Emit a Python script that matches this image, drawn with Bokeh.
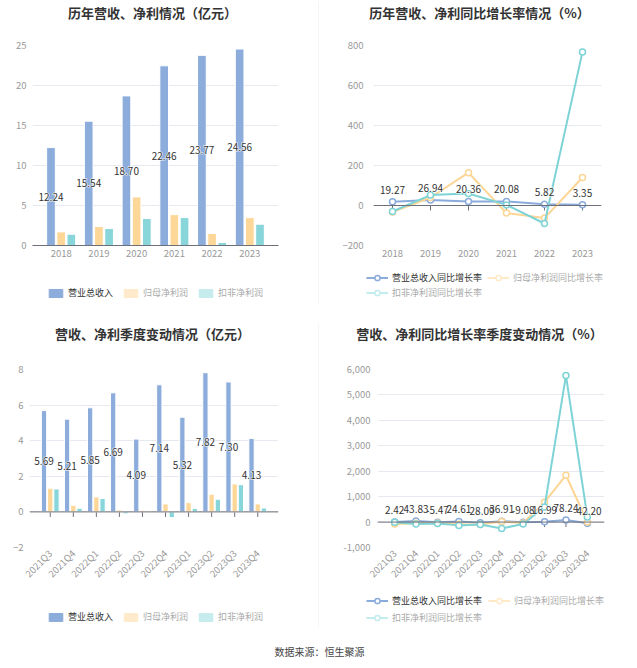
from bokeh.plotting import figure
from bokeh.layouts import column, row
from bokeh.models import (Range1d, FactorRange, Legend, LegendItem, Span, SingleIntervalTicker,
                          NumeralTickFormatter, Label, ColumnDataSource)
from bokeh.transform import dodge
from bokeh.embed import file_html
from bokeh.resources import INLINE
from bokeh.core.properties import value
import math

FONT = "Noto Sans CJK SC"

# ---------------- data ----------------
years = ["2018", "2019", "2020", "2021", "2022", "2023"]
revenue = [12.24, 15.54, 18.70, 22.46, 23.77, 24.56]
net_profit = [1.70, 2.37, 6.07, 3.86, 1.50, 3.49]
deducted_profit = [1.41, 2.12, 3.37, 3.49, 0.37, 2.66]

revenue_growth = [19.27, 26.94, 20.36, 20.08, 5.82, 3.35]
net_growth = [-33, 40, 164, -38, -63, 140]
deducted_growth = [-30, 52, 60, 3, -90, 768]

quarters = ["2021Q3", "2021Q4", "2022Q1", "2022Q2", "2022Q3", "2022Q4",
            "2023Q1", "2023Q2", "2023Q3", "2023Q4"]
q_revenue = [5.69, 5.21, 5.85, 6.69, 4.09, 7.14, 5.32, 7.82, 7.30, 4.13]
q_net_profit = [1.33, 0.37, 0.84, 0.11, 0.09, 0.45, 0.52, 0.99, 1.57, 0.45]
q_deducted_profit = [1.29, 0.21, 0.75, -0.11, 0.04, -0.32, 0.19, 0.71, 1.53, 0.22]

q_revenue_growth = [2.42, 43.83, -5.47, 24.61, -28.09, 36.91, -9.08, 16.99, 78.24, -42.20]
q_net_growth = [-75, -45, -40, -90, -94, 18, -39, 780, 1840, 0]
q_deducted_growth = [-5, -80, -60, -130, -97, -250, -73, 590, 5760, 200]

names_bar = ["营业总收入", "归母净利润", "扣非净利润"]
names_line = ["营业总收入同比增长率", "归母净利润同比增长率", "扣非净利润同比增长率"]
titles = ["历年营收、净利情况（亿元）", "历年营收、净利同比增长率情况（%）",
          "营收、净利季度变动情况（亿元）", "营收、净利同比增长率季度变动情况（%）"]
source_text = "数据来源：恒生聚源"

BLUE, YELLOW, CYAN = "#8cacdb", "#fdd797", "#88d5da"
BLUE_L, YELLOW_L, CYAN_L = "#8cacdb", "#ffeacb", "#c6ecee"
LINE_B, LINE_Y, LINE_C = "#8aabdc", "#fdd594", "#7ed3d6"
LINE_YL, LINE_CL = "#ffe9c6", "#c3ecee"
GRID = "#e6e9f0"
AXIS = "#6e7079"
DIVIDER = "#ececec"


def blank_fig(w, h, bg="white"):
    p = figure(width=w, height=h, x_range=Range1d(0, w), y_range=Range1d(0, h),
               output_backend="svg", toolbar_location=None, x_axis_type=None, y_axis_type=None,
               min_border_left=0, min_border_right=0, min_border_top=0, min_border_bottom=0,
               frame_align=False)
    p.grid.grid_line_color = None
    p.outline_line_color = None
    p.background_fill_color = bg
    p.border_fill_color = bg
    return p


def divider(h_top, h_line, h_bottom):
    return column(blank_fig(1, h_top), blank_fig(1, h_line, DIVIDER), blank_fig(1, h_bottom))


def title_fig(text, w, h, cx, cy):
    p = blank_fig(w, h)
    p.add_layout(Label(x=cx, y=cy, x_units="screen", y_units="screen", text=text,
                       text_font=FONT, text_font_size="13px", text_font_style="bold",
                       text_color="#333333", text_align="center", text_baseline="middle"))
    return p


def chart_fig(factors, yr, w, h, left, right, top, bottom, interval, pad, standoff):
    p = figure(width=w, height=h, x_range=FactorRange(*factors), y_range=Range1d(*yr),
               output_backend="svg", toolbar_location=None,
               min_border_left=left, min_border_right=right,
               min_border_top=top, min_border_bottom=bottom, frame_align=False)
    p.x_range.range_padding = pad
    p.x_range.range_padding_units = "absolute"
    p.outline_line_color = None
    p.background_fill_color = "white"
    p.border_fill_color = "white"
    p.yaxis.ticker = SingleIntervalTicker(interval=interval)
    p.yaxis.axis_line_color = None
    p.yaxis.major_tick_line_color = None
    p.yaxis.minor_tick_line_color = None
    p.yaxis.major_tick_out = 0
    p.yaxis.major_tick_in = 0
    p.yaxis.major_label_text_color = "#999999"
    p.yaxis.major_label_text_font = FONT
    p.yaxis.major_label_text_font_size = "9.5px"
    p.yaxis.major_label_standoff = standoff
    p.ygrid.grid_line_color = GRID
    p.xgrid.grid_line_color = None
    p.xaxis.major_label_text_color = "#999999"
    p.xaxis.major_label_text_font = FONT
    p.xaxis.major_label_text_font_size = "9.5px"
    p.xaxis.major_tick_line_color = None
    p.xaxis.major_tick_out = 0
    p.xaxis.major_tick_in = 0
    p.xaxis.minor_tick_line_color = None
    p.xaxis.major_label_standoff = 4
    return p


def zero_line(p, factors, yr, frame_h):
    p.xaxis.axis_line_color = None
    p.add_layout(Span(location=0, dimension="width", line_color=AXIS, line_width=1))
    tick = (yr[1] - yr[0]) * 5.0 / frame_h
    p.segment(x0=factors, y0=[0] * len(factors), x1=factors, y1=[-tick] * len(factors),
              line_color=AXIS, line_width=1)


def add_legend(p, renderers, label, vx, vy, color, gw, gh, lh):
    lg = Legend(items=[LegendItem(label=label, renderers=renderers)], location=(vx, vy),
                orientation="horizontal", padding=0, margin=0, spacing=0,
                glyph_width=gw, glyph_height=gh, label_standoff=4, label_height=lh,
                label_text_font=FONT, label_text_font_size="9px", label_text_color=color,
                background_fill_alpha=0, border_line_alpha=0)
    p.add_layout(lg)


# legend swatch renderers are kept outside the visible range of the legend strip
OFF = [-1000]


def bar_legend_fig(w, h, labels, positions):
    p = blank_fig(w, h)
    lcolors = [BLUE_L, YELLOW_L, CYAN_L]
    tcolors = ["#333333", "#aaaaaa", "#aaaaaa"]
    for (vx, vy), lab, lc, tc in zip(positions, labels, lcolors, tcolors):
        r = p.rect(x=OFF, y=OFF, width=1, height=1, fill_color=lc, line_color=lc)
        add_legend(p, [r], lab, vx, vy, tc, 17, 10, 12)
    return p


def line_legend_fig(w, h, labels, positions):
    p = blank_fig(w, h)
    lcolors = [LINE_B, LINE_YL, LINE_CL]
    tcolors = ["#333333", "#aaaaaa", "#aaaaaa"]
    for (vx, vy), lab, lc, tc in zip(positions, labels, lcolors, tcolors):
        r1 = p.line(x=OFF, y=OFF, line_color=lc, line_width=2)
        r2 = p.scatter(x=OFF, y=OFF, marker="circle", fill_color="white", line_color=lc,
                       line_width=1.5)
        add_legend(p, [r1, r2], lab, vx, vy, tc, 22, 13, 13)
    return p


def halo_text(p, **kw):
    # white halo underneath, dark text on top
    p.text(text_color="white", text_outline_color="white", **kw)
    p.text(text_color="#333333", **kw)


def bars(p, factors, series):
    src = ColumnDataSource(dict(x=factors, a=series[0], b=series[1], c=series[2],
                                mid=[v / 2 for v in series[0]],
                                txt=["%.2f" % v for v in series[0]]))
    offs = [-0.27, 0.0, 0.27]
    for off, col, c in zip(offs, ["a", "b", "c"], [BLUE, YELLOW, CYAN]):
        p.vbar(x=dodge("x", off, range=p.x_range), top=col, width=0.23, source=src,
               fill_color=c, line_color="white", line_width=1)
    halo_text(p, x=dodge("x", -0.27, range=p.x_range), y="mid", text="txt", source=src,
              text_font=value(FONT), text_font_size="10px",
              text_align="center", text_baseline="middle")


def lines(p, factors, series, label_vals):
    for s, c in zip(series, [LINE_B, LINE_Y, LINE_C]):
        p.line(x=factors, y=s, line_color=c, line_width=2)
        p.scatter(x=factors, y=s, marker="circle", size=6, fill_color="white",
                  line_color=c, line_width=1.5)
    src = ColumnDataSource(dict(x=factors, y=label_vals, txt=["%.2f" % v for v in label_vals]))
    halo_text(p, x="x", y="y", text="txt", source=src,
              text_font=value(FONT), text_font_size="10px",
              text_align="center", text_baseline="middle", y_offset=-12)


# ---------- top-left ----------
yr1 = (0, 25)
c1 = chart_fig(years, yr1, 318, 235, 32, 40, 15, 20, 5, 0.26, 2)
c1.xaxis.axis_line_color = AXIS
bars(c1, years, [revenue, net_profit, deducted_profit])
panel1 = column(title_fig(titles[0], 318, 30, 152, 18), c1,
                bar_legend_fig(318, 45, names_bar, [(47, 11), (122, 11), (197, 11)]))

# ---------- top-right ----------
yr2 = (-200, 800)
c2 = chart_fig(years, yr2, 318, 235, 54, 36, 15, 20, 200, 0, 6)
zero_line(c2, years, yr2, 200)
lines(c2, years, [revenue_growth, net_growth, deducted_growth], revenue_growth)
panel2 = column(title_fig(titles[1], 318, 30, 160, 18), c2,
                line_legend_fig(318, 45, names_line, [(47, 26.5), (168, 26.5), (47, 11.5)]))

# ---------- bottom-left ----------
yr3 = (-2, 8)
c3 = chart_fig(quarters, yr3, 318, 245, 29, 40, 24, 43, 2, 0.4, 2)
zero_line(c3, quarters, yr3, 178)
c3.xaxis.major_label_orientation = math.pi / 4
bars(c3, quarters, [q_revenue, q_net_profit, q_deducted_profit])
panel3 = column(title_fig(titles[2], 318, 35, 152, 12), c3,
                bar_legend_fig(318, 50, names_bar, [(47, 17), (122, 17), (197, 17)]))

# ---------- bottom-right ----------
yr4 = (-1000, 6000)
c4 = chart_fig(quarters, yr4, 318, 245, 58, 33, 24, 43, 1000, 0.3, 3)
c4.yaxis.formatter = NumeralTickFormatter(format="0,0")
zero_line(c4, quarters, yr4, 178)
c4.xaxis.major_label_orientation = math.pi / 4
lines(c4, quarters, [q_revenue_growth, q_net_growth, q_deducted_growth], q_revenue_growth)
panel4 = column(title_fig(titles[3], 318, 35, 160, 12), c4,
                line_legend_fig(318, 50, names_line, [(47, 33.5), (169, 33.5), (47, 16.5)]))

# ---------- source line ----------
src_fig = blank_fig(637, 20)
src_fig.add_layout(Label(x=319, y=9, x_units="screen", y_units="screen", text=source_text,
                         text_font=FONT, text_font_size="10px", text_color="#444444",
                         text_align="center", text_baseline="middle"))

layout = column(row(panel1, divider(1, 304, 5), panel2),
                row(panel3, divider(13, 305, 12), panel4),
                src_fig)
open("out.html", "w").write(file_html(layout, INLINE))
